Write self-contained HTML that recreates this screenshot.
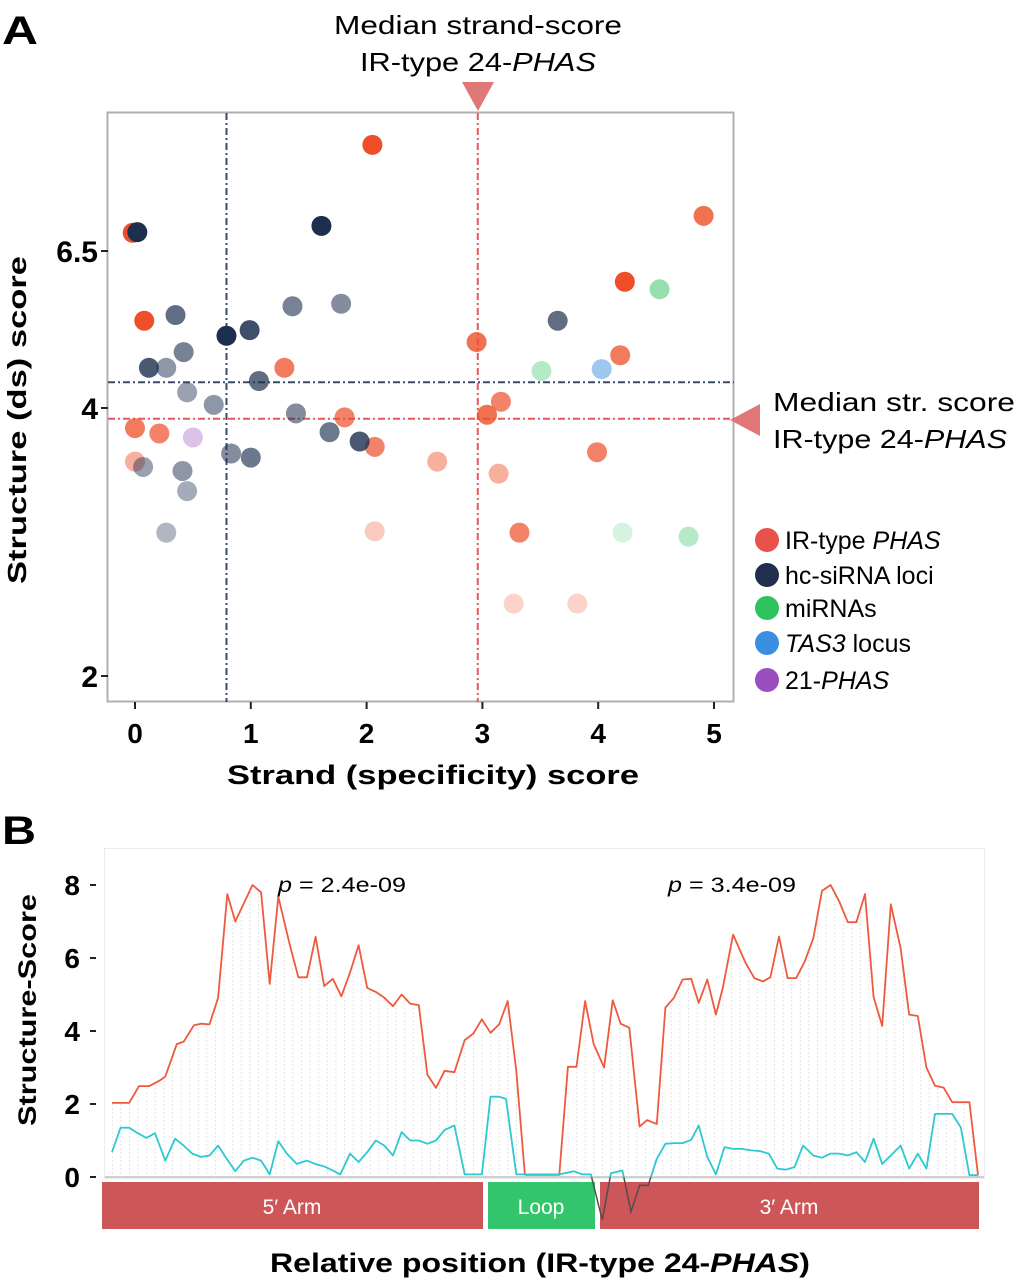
<!DOCTYPE html>
<html><head><meta charset="utf-8"><style>
html,body{margin:0;padding:0;background:#fff;}
svg{display:block;font-family:"Liberation Sans",Arial,sans-serif;}
</style></head><body>
<svg id="fig" width="1015" height="1280" viewBox="0 0 1015 1280">
<defs>
<clipPath id="clipA"><rect x="108" y="113" width="626" height="589"/></clipPath>
<clipPath id="aboveZero"><rect x="100" y="840" width="900" height="337.5"/></clipPath>
<clipPath id="belowZero"><rect x="100" y="1177.5" width="900" height="100"/></clipPath>
<pattern id="stipple" width="8.6" height="4" patternUnits="userSpaceOnUse"><rect x="0" y="0" width="1" height="2" fill="#e4e4e4"/></pattern>
</defs>

<!-- Panel A static -->
<text x="2" y="44" font-size="40" font-weight="bold" textLength="36" lengthAdjust="spacingAndGlyphs">A</text>
<text x="478" y="34" font-size="26" text-anchor="middle" textLength="288" lengthAdjust="spacingAndGlyphs">Median strand-score</text>
<text x="478" y="71" font-size="26" text-anchor="middle" textLength="236" lengthAdjust="spacingAndGlyphs">IR-type 24-<tspan font-style="italic">PHAS</tspan></text>
<polygon points="462,82 494,82 478,111" fill="#e07878"/>
<rect x="107.5" y="112.5" width="626" height="589" fill="none" stroke="#b0b0b0" stroke-width="2"/>
<polygon points="760,404 760,436 730,420" fill="#e07878"/>
<text x="773" y="411" font-size="26" textLength="242" lengthAdjust="spacingAndGlyphs">Median str. score</text>
<text x="773" y="448" font-size="26" textLength="234" lengthAdjust="spacingAndGlyphs">IR-type 24-<tspan font-style="italic">PHAS</tspan></text>
<g id="gA"></g>
<text x="433" y="784" font-size="27" font-weight="bold" text-anchor="middle" textLength="412" lengthAdjust="spacingAndGlyphs">Strand (specificity) score</text>
<text transform="translate(26,420) rotate(-90)" font-size="26" font-weight="bold" text-anchor="middle" textLength="328" lengthAdjust="spacingAndGlyphs">Structure (ds) score</text>
<g id="legend"></g>

<!-- Panel B static -->
<text x="2" y="844" font-size="40" font-weight="bold" textLength="34" lengthAdjust="spacingAndGlyphs">B</text>
<rect x="104.5" y="848.5" width="880" height="330" fill="none" stroke="#ececec" stroke-width="1"/>
<g id="gB"></g>
<text transform="translate(36,1010) rotate(-90)" font-size="25" font-weight="bold" text-anchor="middle" textLength="232" lengthAdjust="spacingAndGlyphs">Structure-Score</text>
<text x="540" y="1272" font-size="27" font-weight="bold" text-anchor="middle" textLength="540" lengthAdjust="spacingAndGlyphs">Relative position (IR-type 24-<tspan font-style="italic">PHAS</tspan>)</text>
<text x="278" y="892" font-size="21" textLength="128" lengthAdjust="spacingAndGlyphs"><tspan font-style="italic">p</tspan> = 2.4e-09</text>
<text x="668" y="892" font-size="21" textLength="128" lengthAdjust="spacingAndGlyphs"><tspan font-style="italic">p</tspan> = 3.4e-09</text>
<rect x="102" y="1182" width="381" height="47" fill="#cd5658"/>
<text x="292" y="1214" font-size="21" fill="#fff" text-anchor="middle">5′ Arm</text>
<rect x="488" y="1182" width="107" height="47" fill="#33c56b"/>
<text x="541" y="1214" font-size="21" fill="#fff" text-anchor="middle">Loop</text>
<rect x="600" y="1182" width="379" height="47" fill="#cd5658"/>
<text x="789" y="1214" font-size="21" fill="#fff" text-anchor="middle">3′ Arm</text>
<g id="gB2"></g>
</svg>
<script>
// ===== Panel A data =====
const aXTicks = [0,1,2,3,4,5];
const aYTicks = [2,4,6.5];
const aYTickLabels = ["2","4","6.5"];
const groups = ["IR-type PHAS","hc-siRNA loci","miRNAs","TAS3 locus","21-PHAS"];
const irStrand = [-0.02,0.08,2.05,4.91,4.23,2.95,4.19,1.29,1.81,3.04,3.16,0.0,2.07,0.0,2.61,3.14,3.99,2.07,3.32,3.27,3.82,0.21];
const irStruct = [6.79,5.39,8.19,7.06,6.01,5.05,4.84,4.64,3.93,3.95,4.10,3.85,3.71,3.60,3.60,3.51,3.67,3.08,3.07,2.54,2.54,3.81];
const irWeight = [1,1,1,0.8,1,0.8,0.75,0.75,0.7,0.8,0.7,0.75,0.7,0.45,0.45,0.45,0.7,0.3,0.7,0.25,0.25,0.7];
const hcStrand = [0.02,1.61,0.79,0.99,0.35,1.36,1.78,3.65,0.12,0.27,0.42,1.07,0.45,0.68,1.39,1.68,1.94,0.83,1.0,0.07,0.41,0.45,0.27];
const hcStruct = [6.80,6.90,5.15,5.24,5.48,5.62,5.66,5.39,4.64,4.64,4.89,4.43,4.25,4.05,3.96,3.82,3.75,3.66,3.63,3.56,3.53,3.38,3.07];
const hcWeight = [1,1,1,0.85,0.7,0.6,0.55,0.7,0.8,0.5,0.6,0.7,0.45,0.5,0.55,0.65,0.8,0.55,0.65,0.45,0.5,0.4,0.35];
const miStrand = [4.53,3.51,4.21,4.78];
const miStruct = [5.89,4.59,3.07,3.04];
const miWeight = [0.5,0.35,0.2,0.35];
const tasStrand = [4.03];
const tasStruct = [4.62];
const tasWeight = [0.5];
const p21Strand = [0.5];
const p21Struct = [3.78];
const p21Weight = [0.35];
const medianStrandHc = 0.79, medianStrandIr = 2.96, medianStructHc = 4.41, medianStructIr = 3.92;

// ===== Panel B data =====
const bYTicks = [0,2,4,6,8];
const redPos = [0,30,47,65,83,93,113,125,143,155,170,185,201,215,230,245,260,275,290,310,325,340,355,370,385,400,415,430,445,460,475,490,505,520,535,550,565,580,597,615,630,645,660,675,690,705,720,735,750,765,780,795,810,825,840,858,873,887,902,920,933,950,965,980,995,1010,1023,1038,1053,1065,1083,1105,1120,1135,1148,1163,1178,1193,1208,1223,1238,1253,1268,1283,1298,1313,1328,1343,1358,1375,1390,1405,1420,1435,1450,1465,1480,1495,1510];
const redVal = [2.03,2.03,2.49,2.49,2.64,2.75,3.64,3.71,4.16,4.2,4.18,4.91,7.75,7.0,7.5,8.0,7.8,5.29,7.68,6.36,5.47,5.47,6.58,5.23,5.43,4.95,5.6,6.35,5.18,5.07,4.91,4.68,5.0,4.75,4.71,2.8,2.44,2.91,2.87,3.75,3.93,4.32,3.95,4.18,4.82,2.91,0.06,0.06,0.06,0.06,0.06,3.02,3.02,4.82,3.64,3.0,4.84,4.2,4.09,1.38,1.56,1.45,4.64,4.91,5.41,5.43,4.77,5.41,4.45,5.18,6.64,5.86,5.45,5.36,5.47,6.59,5.45,5.45,5.91,6.55,7.84,8.0,7.55,6.98,6.98,7.75,4.93,4.14,7.47,6.27,4.45,4.41,3.0,2.5,2.45,2.05,2.05,2.05,0.05];
const cyanPos = [0,15,30,45,60,75,93,110,125,140,155,170,185,200,215,230,245,260,275,290,305,322,340,355,370,385,398,415,430,445,460,475,490,505,520,535,550,565,580,597,615,645,660,675,687,705,720,735,750,765,780,805,820,835,855,870,890,905,920,935,950,965,980,995,1010,1023,1038,1053,1068,1083,1098,1115,1130,1145,1160,1175,1190,1205,1223,1238,1253,1268,1283,1298,1313,1328,1343,1358,1375,1390,1405,1420,1435,1450,1465,1480,1495,1510];
const cyanVal = [0.68,1.35,1.35,1.2,1.07,1.2,0.45,1.05,0.86,0.64,0.55,0.59,0.86,0.5,0.16,0.45,0.53,0.45,0.07,0.98,0.64,0.36,0.45,0.35,0.29,0.18,0.07,0.64,0.41,0.68,1.0,0.86,0.59,1.23,1.0,1.0,0.91,1.0,1.29,1.41,0.07,0.07,2.2,2.2,2.14,0.07,0.07,0.07,0.07,0.07,0.07,0.16,0.07,0.07,-1.18,0.1,0.18,-0.95,-0.23,-0.23,0.5,0.91,0.93,0.93,1.02,1.41,0.55,0.07,0.82,0.77,0.77,0.73,0.71,0.64,0.23,0.2,0.27,0.86,0.59,0.53,0.64,0.64,0.59,0.68,0.41,1.05,0.36,0.59,0.86,0.23,0.64,0.23,1.73,1.73,1.73,1.36,0.05,0.05];

const NS = "http://www.w3.org/2000/svg";
function mk(tag, attrs, parent){const e=document.createElementNS(NS,tag);for(const k in attrs)e.setAttribute(k,attrs[k]);parent.appendChild(e);return e;}

// Panel A scales
function ax(v){return 135 + v*115.8;}
function ay(v){return v>=4 ? 408-(v-4)*62.8 : 408+(4-v)*134;}

const gA = document.getElementById('gA');
aXTicks.forEach(t=>{
  const l=mk('line',{x1:ax(t),x2:ax(t),y1:702,y2:709,stroke:'#222','stroke-width':2},gA);
  
  
  const tx=mk('text',{x:ax(t),y:743,'font-size':28,'font-weight':'bold','text-anchor':'middle'},gA);
  tx.textContent=String(t);
  
  
});
aYTicks.forEach((t,i)=>{
  const l=mk('line',{x1:101,x2:108,y1:ay(t),y2:ay(t),stroke:'#222','stroke-width':2},gA);
  
  
  const tx=mk('text',{x:98,y:ay(t)+11,'font-size':30,'font-weight':'bold','text-anchor':'end'},gA);
  tx.textContent=aYTickLabels[i];
  
  
});
const medG = mk('g',{'clip-path':'url(#clipA)'},gA);
const m1=mk('line',{x1:ax(medianStrandHc),x2:ax(medianStrandHc),y1:113,y2:702,stroke:'#3a4a6a','stroke-width':2,'stroke-dasharray':'7,3,2,3'},medG);


const m2=mk('line',{x1:ax(medianStrandIr),x2:ax(medianStrandIr),y1:113,y2:702,stroke:'#e8585a','stroke-width':2,'stroke-dasharray':'7,3,2,3'},medG);


const m3=mk('line',{x1:108,x2:734,y1:ay(medianStructHc),y2:ay(medianStructHc),stroke:'#3a4a6a','stroke-width':2,'stroke-dasharray':'7,3,2,3'},medG);


const m4=mk('line',{x1:108,x2:734,y1:ay(medianStructIr),y2:ay(medianStructIr),stroke:'#e8585a','stroke-width':2,'stroke-dasharray':'7,3,2,3'},medG);



function drawGroup(xs,ys,ws,color,name){
  xs.forEach((x,i)=>{
    const c=mk('circle',{cx:ax(x),cy:ay(ys[i]),r:10,fill:color,'fill-opacity':ws[i]},medG);
    
    
  });
}
drawGroup(irStrand,irStruct,irWeight,'#ee4f28','point-ir-phas');
drawGroup(hcStrand,hcStruct,hcWeight,'#1d2f4f','point-hc-sirna');
drawGroup(miStrand,miStruct,miWeight,'#2fc25e','point-mirna');
drawGroup(tasStrand,tasStruct,tasWeight,'#3b8fe0','point-tas3');
drawGroup(p21Strand,p21Struct,p21Weight,'#9b4fbf','point-21-phas');

// legend
const legColors=['#e8524a','#1f2f4c','#2fc25e','#3b8fe0','#9b4fbf'];
const legY=[540,575,608,643,680];
const legend=document.getElementById('legend');
groups.forEach((g,i)=>{
  const c=mk('circle',{cx:767,cy:legY[i],r:12,fill:legColors[i]},legend);
  
  
  const t=mk('text',{x:785,y:legY[i]+9,'font-size':25},legend);
  
  
  if(g==='IR-type PHAS'){t.innerHTML='IR-type <tspan font-style="italic">PHAS</tspan>';}
  else if(g==='TAS3 locus'){t.innerHTML='<tspan font-style="italic">TAS3</tspan> locus';}
  else if(g==='21-PHAS'){t.innerHTML='21-<tspan font-style="italic">PHAS</tspan>';}
  else t.textContent=g;
});

// Panel B scales
function bx(p){return 112 + p*0.5735;}
function by(v){return 1177 - v*36.5;}
const gB=document.getElementById('gB');
bYTicks.forEach(t=>{
  const l=mk('line',{x1:90,x2:96,y1:by(t),y2:by(t),stroke:'#222','stroke-width':2},gB);
  
  
  const tx=mk('text',{x:80,y:by(t)+10,'font-size':28,'font-weight':'bold','text-anchor':'end'},gB);
  tx.textContent=String(t);
  
  
});
const zl=mk('line',{x1:105,x2:984,y1:by(0),y2:by(0),stroke:'#cfcfcf','stroke-width':2},gB);


let redPts=redPos.map((p,i)=>bx(p).toFixed(1)+','+by(redVal[i]).toFixed(1)).join(' ');
const area=mk('polygon',{points:bx(redPos[0])+','+by(0)+' '+redPts+' '+bx(redPos[redPos.length-1])+','+by(0),fill:'url(#stipple)'},gB);


const rl=mk('polyline',{points:redPts,fill:'none',stroke:'#ee5a3e','stroke-width':1.8,'stroke-linejoin':'round'},gB);


let cyPts=cyanPos.map((p,i)=>bx(p).toFixed(1)+','+by(cyanVal[i]).toFixed(1)).join(' ');
const gB2=document.getElementById('gB2');
const cl=mk('polyline',{points:cyPts,fill:'none',stroke:'#2ccad0','stroke-width':1.8,'stroke-linejoin':'round','clip-path':'url(#aboveZero)'},gB);


const cl2=mk('polyline',{points:cyPts,fill:'none',stroke:'#5a4a4a','stroke-width':1.5,'clip-path':'url(#belowZero)'},gB2);


</script>
</body></html>
